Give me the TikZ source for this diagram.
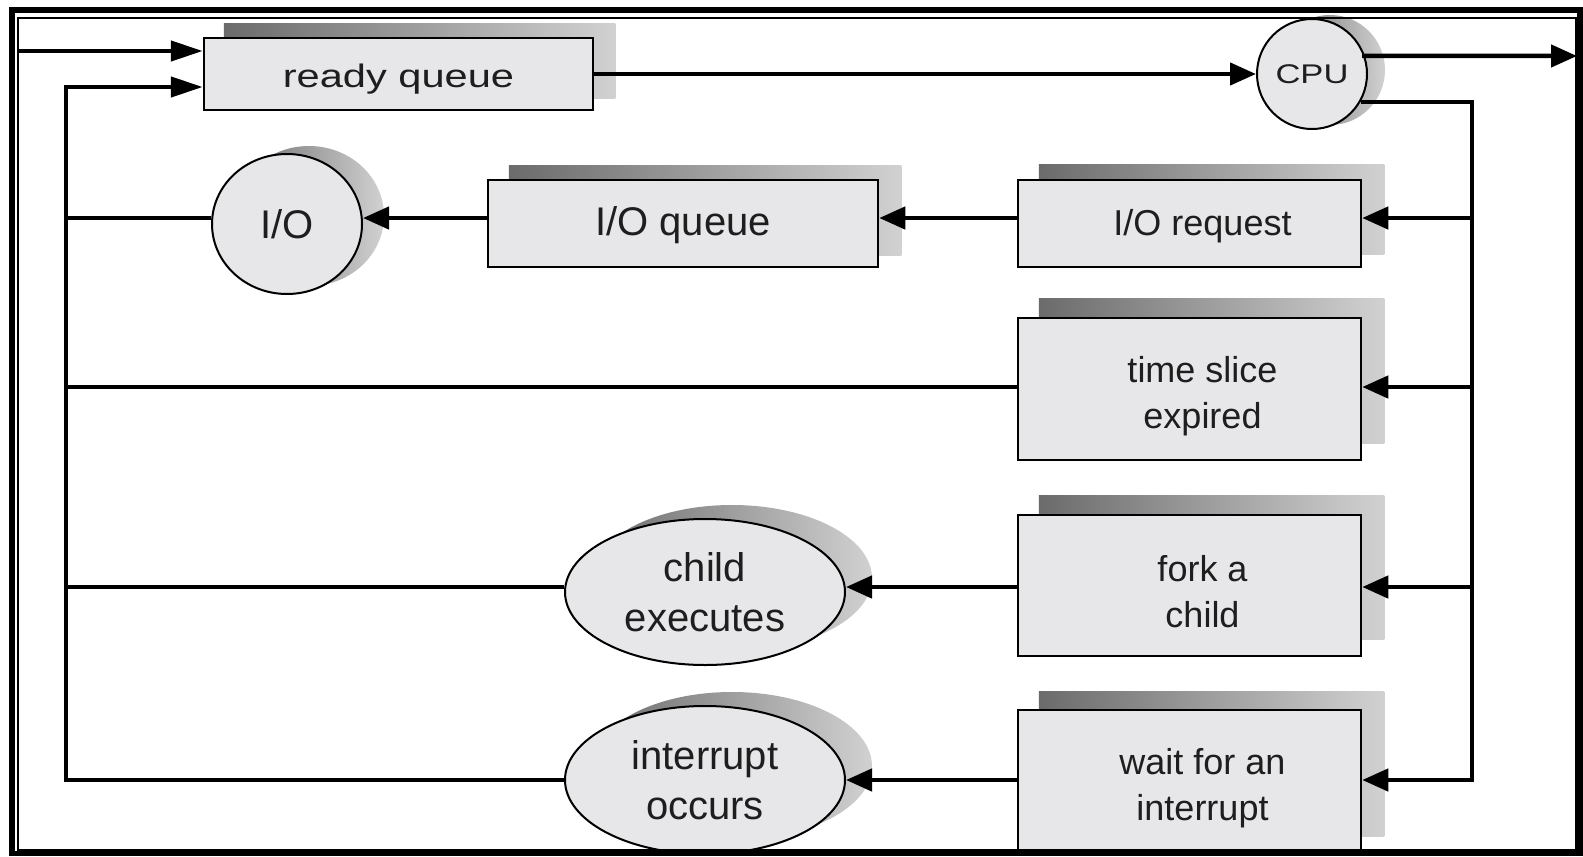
\documentclass[tikz,border=0pt]{standalone}
\usepackage{fontspec}
\setmainfont{Liberation Sans}
\newfontfamily\widefont[FakeStretch=1.28]{Liberation Sans}
\usetikzlibrary{arrows.meta,shapes.geometric}
\pgfdeclarelayer{bg}
\pgfsetlayers{bg,main}
\definecolor{boxfill}{HTML}{E7E6E8}
\definecolor{txt}{HTML}{1E1E1E}
\newcommand{\dn}[1]{\rule{0pt}{#1}}
\newcommand{\lowr}[2]{\raisebox{-#1}[\height][\depth]{#2}}
\begin{document}
\begin{tikzpicture}[x=1pt,y=-1pt,
  box/.style={draw=black, line width=2.5pt, fill=boxfill, inner sep=0pt, align=center,
    text=txt, font=\fontsize{36}{46}\selectfont},
  oval/.style={ellipse, draw=black, line width=2pt, fill=boxfill, inner sep=0pt, align=center,
    text=txt, font=\fontsize{40}{50}\selectfont},
  line/.style={line width=4.5pt},
  arr/.style={line width=4.5pt, -{Triangle[length=26pt,width=22pt]}},
  inarr/.style={line width=4.5pt, -{Triangle[length=32pt,width=20pt]}},
  shd/.style={left color=black!58, right color=black!18}]
\useasboundingbox (0,0) rectangle (1583,857);

\begin{scope}
\clip (17,17) rectangle (1576,850);
% nodes
\node[box, minimum width=389pt, minimum height=72pt, font=\widefont\fontsize{32.5}{36}\selectfont] (rq) at (398.5,74) {\lowr{5pt}{ready queue}};
\node[circle, draw=black, line width=2pt, fill=boxfill, minimum size=110pt, inner sep=0pt, text=txt,
  font=\widefont\fontsize{27}{30}\selectfont] (cpu) at (1312,74) {CPU};
\node[oval, minimum width=150pt, minimum height=140pt] (io) at (287,224) {I/O};
\node[box, minimum width=390pt, minimum height=87pt, font=\fontsize{40}{48}\selectfont] (ioq) at (683,223.5) {\lowr{2pt}{I/O queue}};
\node[box, minimum width=343pt, minimum height=87pt] (iorq) at (1189.5,223.5) {\hspace*{26pt}\lowr{3pt}{I/O request}};
\node[box, minimum width=343pt, minimum height=142pt] (ts) at (1189.5,389) {\dn{40pt}\hspace*{26pt}time slice\\\hspace*{26pt}expired};
\node[box, minimum width=343pt, minimum height=141pt] (fork) at (1189.5,585.5) {\dn{38pt}\hspace*{26pt}fork a\\\hspace*{26pt}child};
\node[box, minimum width=343pt, minimum height=142pt] (wait) at (1189.5,781) {\dn{40pt}\hspace*{26pt}wait for an\\\hspace*{26pt}interrupt};
\node[oval, minimum width=280pt, minimum height=146pt] (child) at (705,592) {child\\executes};
\node[oval, minimum width=280pt, minimum height=148pt] (intr) at (705,780) {interrupt\\occurs};

% junction points
\coordinate (in1) at (17,51);
\coordinate (lt) at (66,87);
\coordinate (lb) at (66,780);
\coordinate (out) at (1577,56);
\coordinate (rb) at (1472,780);
\coordinate (y1) at (1472,218);
\coordinate (y2) at (1472,387);
\coordinate (y3) at (1472,587);

% connectors
\draw[inarr] (in1) -- (rq.west |- in1);
\draw[inarr] (intr.west |- lb) -- (lb) -- (lt) -- (rq.west |- lt);
\draw[arr] (rq) -- (cpu);
\draw[arr] (cpu.19 -| cpu.center) ++(50,0) -- (out);
\draw[arr] (cpu.-30) -| (rb) -- (wait.east |- rb);
\draw[arr] (y1) -- (iorq.east |- y1);
\draw[arr] (iorq.west |- y1) -- (ioq.east |- y1);
\draw[arr] (ioq.west |- y1) -- (io.east |- y1);
\draw[line] (io.west |- y1) -- (lt |- y1);
\draw[arr] (y2) -- (ts.east |- y2);
\draw[line] (ts.west |- y2) -- (lt |- y2);
\draw[arr] (y3) -- (fork.east |- y3);
\draw[arr] (fork.west |- y3) -- (child.east |- y3);
\draw[line] (child.west |- y3) -- (lt |- y3);
\draw[arr] (wait.west |- rb) -- (intr.east |- rb);
\end{scope}

% shadows
\begin{pgfonlayer}{bg}
\shade[shd] ([shift={(21,-13)}]rq.south west) rectangle ([shift={(21,-13)}]rq.north east);
\shade[shd] ([shift={(22,-13)}]ioq.south west) rectangle ([shift={(22,-13)}]ioq.north east);
\shade[shd] ([shift={(22,-14)}]iorq.south west) rectangle ([shift={(22,-14)}]iorq.north east);
\shade[shd] ([shift={(22,-18)}]ts.south west) rectangle ([shift={(22,-18)}]ts.north east);
\shade[shd] ([shift={(22,-18)}]fork.south west) rectangle ([shift={(22,-18)}]fork.north east);
\shade[shd] ([shift={(22,-17)}]wait.south west) rectangle ([shift={(22,-17)}]wait.north east);
\shade[shd] ([shift={(18,-4)}]cpu.center) circle[radius=55pt];
\shade[shd] ([shift={(22,-8)}]io.center) ellipse[x radius=75pt, y radius=70pt];
\shade[shd] ([shift={(27,-14)}]child.center) ellipse[x radius=140pt, y radius=73pt];
\shade[shd] ([shift={(27,-14)}]intr.center) ellipse[x radius=140pt, y radius=74pt];
\end{pgfonlayer}

% frame
\draw[line width=5.5pt] (12,10) rectangle (1580,853.5);
\draw[line width=2pt] (17.5,17.5) rectangle (1576,850);
\end{tikzpicture}
\end{document}
